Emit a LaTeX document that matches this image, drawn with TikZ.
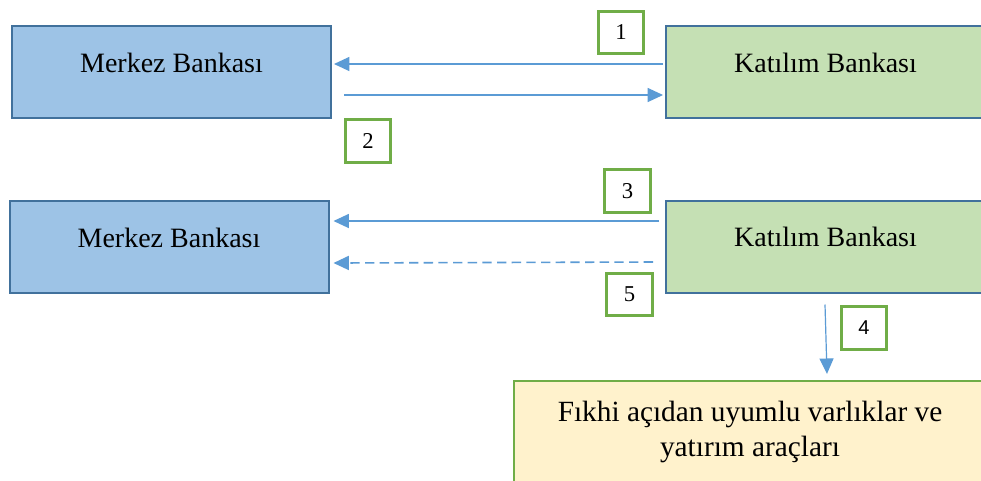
\documentclass[tikz,border=0pt]{standalone}
\usepackage{fontspec}
\setmainfont{Liberation Serif}
\newfontfamily\numsans{Liberation Sans}
\usetikzlibrary{arrows.meta,calc}

\definecolor{cbfill}{HTML}{9DC3E6}
\definecolor{boxline}{HTML}{41719C}
\definecolor{kbfill}{HTML}{C5E0B4}
\definecolor{tagline}{HTML}{70AD47}
\definecolor{assetfill}{HTML}{FFF2CC}
\definecolor{flowblue}{HTML}{5B9BD5}

\tikzset{
  bank/.style={draw=boxline, line width=1.5pt, minimum width=239.25pt,
    minimum height=69pt, inner sep=0pt, font=\fontsize{21}{25}\selectfont,
    text height=14pt, text depth=14pt},
  central/.style={bank, fill=cbfill},
  participation/.style={bank, fill=kbfill},
  tag/.style={draw=tagline, fill=white, line width=2.25pt, minimum width=34pt,
    minimum height=32pt, inner sep=0pt, font=\fontsize{17}{19}\selectfont},
  assets/.style={draw=tagline, fill=assetfill, line width=1.75pt,
    minimum width=354pt, minimum height=90pt, inner sep=0pt},
  flow/.style={draw=flowblue, line width=0.9pt,
    -{Triangle[length=11.5pt,width=10.5pt]}},
  dashflow/.style={flow, line width=1.2pt, dash pattern=on 7pt off 4pt}
}

\begin{document}
\begin{tikzpicture}[x=0.75pt, y=-0.75pt]
  \clip (0,0) rectangle (981,480);
  \fill[white] (0,0) rectangle (981,480);

  % first row: reserve exchange
  \node[central] (mb1) at (171.5,72) {Merkez Bankası};
  \node[participation] (kb1) at (825.5,72) {Katılım Bankası};

  % second row: funding and return
  \node[central] (mb2) at (169,247) {Merkez Bankası};
  \node[participation] (kb2) at (825.5,246.5) {Katılım Bankası};

  % compliant asset pool
  \node[assets] (fv) at (750,441) {};
  \node[align=center, font=\fontsize{22}{26.25}\selectfont, inner sep=0pt]
    (fvt) at (750,432) {Fıkhi açıdan uyumlu varlıklar ve\\yatırım araçları};

  % step tags
  \node[tag] (t1) at (621,32.5) {1};
  \node[tag] (t2) at (368,141) {2};
  \node[tag] (t3) at (627.5,191) {3};
  \node[tag] (t5) at (629.5,294.5) {5};
  \node[tag, font=\numsans\fontsize{15}{18}\selectfont] (t4) at (864,328) {4};

  % flows
  \draw[flow] ([shift={(-2,-8)}]kb1.west) -- ([shift={(2,-8)}]mb1.east);
  \draw[flow] ([shift={(12,23)}]mb1.east) -- ([shift={(-2,23)}]kb1.west);
  \draw[flow] ([shift={(-6,-25.5)}]kb2.west) -- ([shift={(4,-26)}]mb2.east);
  \draw[dashflow] ([shift={(-12,15.5)}]kb2.west) -- ([shift={(4,16)}]mb2.east);
  \draw[flow] ([shift={(-0.5,11)}]kb2.south) -- ($(kb2.south |- fv.north)+(1.5,-6)$);
\end{tikzpicture}
\end{document}
